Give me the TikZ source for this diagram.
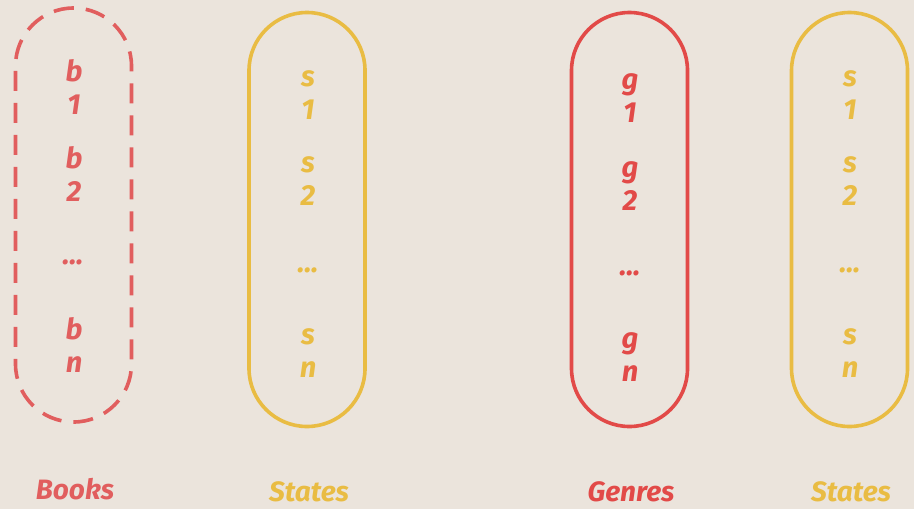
\documentclass[tikz,border=0pt]{standalone}
\usepackage{fontspec}
\setmainfont{Fira Sans}
\usepackage{tikz}
\usetikzlibrary{positioning}
\definecolor{bgbeige}{HTML}{EBE4DC}
\definecolor{bookred}{HTML}{E15E5E}
\definecolor{genrered}{HTML}{E24A48}
\definecolor{stateyellow}{HTML}{E9BC43}
\tikzset{
  capsule/.style={draw, line width=1.8pt, minimum width=58pt, minimum height=207pt, rounded corners=29pt, inner sep=0pt},
  item/.style={align=center, font=\bfseries\itshape\fontsize{14.5}{16.5}\selectfont, inner sep=0pt},
  lbl/.style={font=\bfseries\itshape\fontsize{14}{15}\selectfont, inner sep=0pt}
}
\begin{document}
\begin{tikzpicture}[x=0.5pt, y=-0.5pt]
\fill[bgbeige] (0,0) rectangle (914,509);
% the four sets
\node[capsule, draw=bookred, dash pattern=on 10pt off 6pt] (books) at (73.5,215) {};
\node[capsule, draw=stateyellow] (states) at (307,219.5) {};
\node[capsule, draw=genrered] (genres) at (629.5,219.5) {};
\node[capsule, draw=stateyellow] (statesb) at (849.5,219.5) {};
% members
\node[item, text=bookred] (b1) at (74,87) {b\\1};
\node[item, text=bookred] (b2) at (74,174) {b\\2};
\node[item, text=bookred] (bdots) at (73,262) {...};
\node[item, text=bookred] (bn) at (74,345) {b\\n};
\node[item, text=stateyellow] (s1) at (308,95) {s\\1};
\node[item, text=stateyellow] (s2) at (308,181) {s\\2};
\node[item, text=stateyellow] (sdots) at (308,270) {...};
\node[item, text=stateyellow] (sn) at (308,353) {s\\n};
\node[item, text=genrered] (g1) at (630,98) {g\\1};
\node[item, text=genrered] (g2) at (630,186) {g\\2};
\node[item, text=genrered] (gdots) at (630,273) {...};
\node[item, text=genrered] (gn) at (630,357) {g\\n};
\node[item, text=stateyellow] (sb1) at (850,95) {s\\1};
\node[item, text=stateyellow] (sb2) at (850,181) {s\\2};
\node[item, text=stateyellow] (sbdots) at (850,270) {...};
\node[item, text=stateyellow] (sbn) at (850,353) {s\\n};
% set names
\node[lbl, text=bookred] (booksname) at (75,489) {Books};
\node[lbl, text=stateyellow] (statesname) at (309,492) {States};
\node[lbl, text=genrered] (genresname) at (631,492) {Genres};
\node[lbl, text=stateyellow] (statesbname) at (851,492) {States};
\end{tikzpicture}
\end{document}
